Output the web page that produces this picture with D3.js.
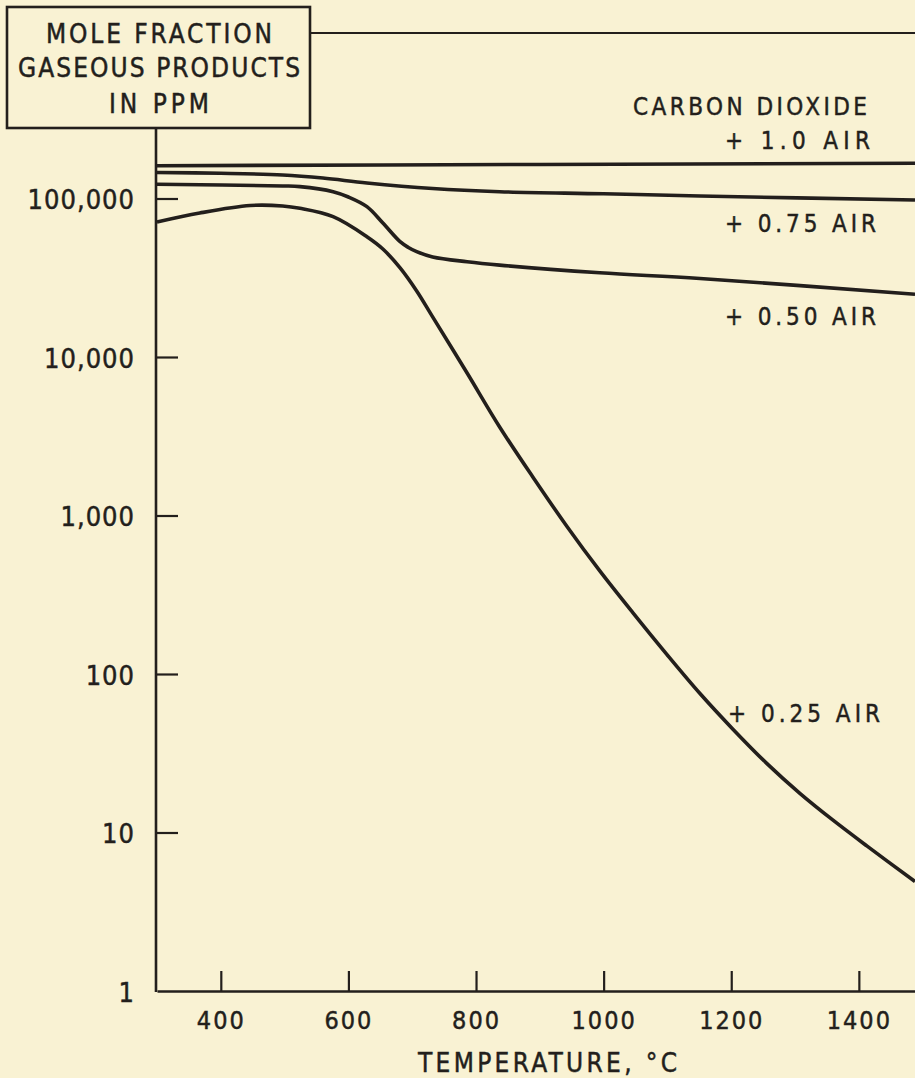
<!DOCTYPE html>
<html>
<head>
<meta charset="utf-8">
<script src="https://cdn.jsdelivr.net/npm/d3@7"></script>
<style>
  body { margin: 0; background: #f9f2d3; }
  text { font-family: "DejaVu Sans Condensed", "Liberation Sans Narrow", "DejaVu Sans", sans-serif; fill: #231f1c; stroke: #231f1c; stroke-width: 0.45px; }
</style>
</head>
<body>
<div id="chart"></div>
<script>
// values (temperature in deg C, mole fraction in ppm)
var temps100 = [300, 900, 1488];
var ppm100 = [161000, 164000, 167000];

var temps75 = [300, 400, 497, 560, 629, 732, 837, 1000, 1151, 1488];
var ppm75 = [145900, 144200, 140700, 134600, 125300, 115700, 110400, 107100, 103700, 97900];

var temps50 = [300, 497, 524, 576, 600, 629, 654, 681, 694, 707, 732, 786, 837, 994, 1151, 1488];
var ppm50 = [123000, 120000, 118800, 110400, 102200, 88800, 70000, 53400, 49100, 46200, 42800, 39900, 38000, 34000, 31300, 24900];

var temps25 = [300, 367, 446, 497, 524, 576, 629, 654, 681, 707, 732, 786, 837, 889, 942, 994, 1046, 1099, 1151, 1203, 1256, 1308, 1359, 1413, 1488];
var ppm25 = [71100, 81000, 90300, 89700, 86700, 76800, 57400, 48000, 36500, 26100, 17900, 7930, 3620, 1750, 859, 447, 243, 133, 75.3, 44.7, 27.2, 17.6, 12.0, 8.2, 4.9];

var xTicks = [400, 600, 800, 1000, 1200, 1400];
var yTicks = [1, 10, 100, 1000, 10000, 100000];

var boxLines = ["MOLE FRACTION", "GASEOUS PRODUCTS", "IN PPM"];
var seriesLabels = ["+ 1.0  AIR", "+ 0.75 AIR", "+ 0.50 AIR", "+ 0.25 AIR"];

var svgWidth = 915;
var svgHeight = 1078;
var ink = "#231f1c";

var svg = d3.select("#chart")
  .append("svg")
  .attr("width", svgWidth)
  .attr("height", svgHeight);

svg.append("rect")
  .attr("width", "100%")
  .attr("height", "100%")
  .attr("fill", "#f9f2d3");

var x = d3.scaleLinear().domain([300, 1488]).range([157, 915]);
var y = d3.scaleLog().domain([1, 100000]).range([991, 198.5]);

// x axis, ticks pointing up into the plot
var xAxis = svg.append("g")
  .attr("transform", "translate(0,991)")
  .call(d3.axisBottom(x).tickValues(xTicks).tickSizeInner(-20).tickSizeOuter(0).tickFormat(d3.format("d")));
xAxis.select(".domain").attr("stroke", ink).attr("stroke-width", 2.6);
xAxis.selectAll(".tick line").attr("stroke", ink).attr("stroke-width", 2.2);
xAxis.selectAll(".tick text")
  .attr("y", 38)
  .attr("dy", 0)
  .attr("fill", ink)
  .style("font-size", "25px")
  .style("letter-spacing", "2px");

// y axis, ticks pointing right
var yAxis = svg.append("g")
  .attr("transform", "translate(157,0)")
  .call(d3.axisLeft(y).tickValues(yTicks).tickSizeInner(-21).tickSizeOuter(0).tickFormat(d3.format(",")));
yAxis.select(".domain").remove();
yAxis.selectAll(".tick line")
  .attr("stroke", ink)
  .attr("stroke-width", 2.2)
  .attr("display", d => d === 1 ? "none" : null);
yAxis.selectAll(".tick text")
  .attr("x", -22)
  .attr("dy", "0.37em")
  .attr("fill", ink)
  .style("font-size", "27px")
  .style("letter-spacing", "1px");

svg.append("line")
  .attr("x1", 156).attr("x2", 156)
  .attr("y1", 128).attr("y2", 992)
  .attr("stroke", ink)
  .attr("stroke-width", 2.6);

// title box in the corner
svg.append("rect")
  .attr("x", 7).attr("y", 7)
  .attr("width", 303).attr("height", 121)
  .attr("fill", "none")
  .attr("stroke", ink)
  .attr("stroke-width", 2.6);

svg.append("line")
  .attr("x1", 310).attr("x2", 915)
  .attr("y1", 33).attr("y2", 33)
  .attr("stroke", ink)
  .attr("stroke-width", 2.2);

var boxBase = [43, 77, 113];
var boxWidth = [226, 282, 100];
svg.selectAll(".boxtext")
  .data(boxLines)
  .enter()
  .append("text")
  .attr("class", "boxtext")
  .attr("x", 159)
  .attr("y", (d, i) => boxBase[i])
  .attr("text-anchor", "middle")
  .attr("textLength", (d, i) => boxWidth[i])
  .attr("lengthAdjust", "spacing")
  .style("font-size", "26px")
  .text(d => d);

// curves
var series = [
  { t: temps100, v: ppm100 },
  { t: temps75, v: ppm75 },
  { t: temps50, v: ppm50 },
  { t: temps25, v: ppm25 }
];

var line = d3.line()
  .x(d => x(d[0]))
  .y(d => y(d[1]))
  .curve(d3.curveCatmullRom.alpha(0.5));

svg.selectAll(".curve")
  .data(series)
  .enter()
  .append("path")
  .attr("class", "curve")
  .attr("d", s => line(d3.zip(s.t, s.v)))
  .attr("fill", "none")
  .attr("stroke", ink)
  .attr("stroke-width", 3.6)
  .attr("stroke-linejoin", "round");

// labels at the right
svg.append("text")
  .attr("x", 633).attr("y", 115)
  .attr("textLength", 234).attr("lengthAdjust", "spacing")
  .style("font-size", "24px")
  .text("CARBON DIOXIDE");

var labelX = [725, 725, 725, 728];
var labelY = [149, 232, 325, 722];
var labelW = [145, 151, 151, 152];
svg.selectAll(".serieslabel")
  .data(seriesLabels)
  .enter()
  .append("text")
  .attr("class", "serieslabel")
  .attr("x", (d, i) => labelX[i])
  .attr("y", (d, i) => labelY[i])
  .attr("textLength", (d, i) => labelW[i])
  .attr("lengthAdjust", "spacing")
  .style("font-size", "24px")
  .text(d => d);

svg.append("text")
  .attr("x", 418).attr("y", 1072)
  .attr("textLength", 259).attr("lengthAdjust", "spacing")
  .style("font-size", "26px")
  .text("TEMPERATURE, °C");
</script>
</body>
</html>
